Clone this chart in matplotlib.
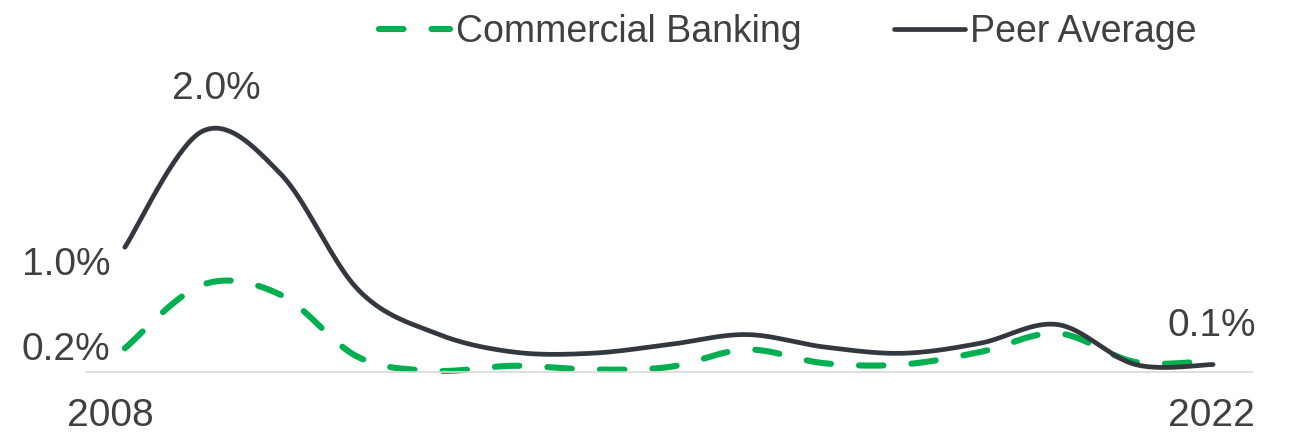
import numpy as np
import matplotlib
matplotlib.use("Agg")
import matplotlib.pyplot as plt

years = list(range(2008, 2023))
commercial = [0.19, 0.70, 0.62, 0.12, 0.01, 0.05, 0.02, 0.04, 0.18, 0.07, 0.06, 0.16, 0.31, 0.08, 0.09]
peer = [1.00, 1.93, 1.59, 0.66, 0.31, 0.16, 0.15, 0.22, 0.30, 0.20, 0.15, 0.23, 0.38, 0.06, 0.06]

GREEN = "#00B050"
DARK = "#33383E"
TEXT = "#404040"

plt.rcParams["font.family"] = ["Liberation Sans", "DejaVu Sans"]


def smooth(xs, ys, n=40):
    # excel-like smoothed line: bezier segments with catmull-rom control points
    x = np.asarray(xs, dtype=float)
    y = np.asarray(ys, dtype=float)
    px = np.concatenate([[x[0]], x, [x[-1]]])
    py = np.concatenate([[y[0]], y, [y[-1]]])
    out_x, out_y = [], []
    t = np.linspace(0, 1, n)
    for i in range(len(x) - 1):
        p0 = np.array([px[i + 1], py[i + 1]])
        p3 = np.array([px[i + 2], py[i + 2]])
        c1 = p0 + (p3 - np.array([px[i], py[i]])) / 6
        c2 = p3 - (np.array([px[i + 3], py[i + 3]]) - p0) / 6
        b = ((1 - t) ** 3)[:, None] * p0 + (3 * (1 - t) ** 2 * t)[:, None] * c1 \
            + (3 * (1 - t) * t ** 2)[:, None] * c2 + (t ** 3)[:, None] * p3
        out_x.extend(b[:, 0])
        out_y.extend(b[:, 1])
    return out_x, out_y


fig = plt.figure(figsize=(12.91, 4.33), dpi=100)
ax = fig.add_axes([86 / 1291, (433 - 372) / 433, (1252 - 86) / 1291, 312 / 433])

cx, cy = smooth(years, commercial)
px_, py_ = smooth(years, peer)
ax.plot(cx, cy, color=GREEN, lw=4.4, dashes=(4.0, 4.6), dash_capstyle="round",
        label="Commercial Banking", clip_on=False)
ax.plot(px_, py_, color=DARK, lw=3.4, solid_capstyle="round",
        label="Peer Average", clip_on=False)

ax.set_xlim(2007.5, 2022.5)
ax.set_ylim(0, 2.5)
for s in ["top", "right", "left"]:
    ax.spines[s].set_visible(False)
ax.spines["bottom"].set_color("#D9D9D9")
ax.spines["bottom"].set_linewidth(1.2)
ax.set_yticks([])
ax.set_xticks([2007.82, 2021.98])
ax.set_xticklabels(["2008", "2022"], fontsize=28, color=TEXT)
ax.tick_params(axis="x", length=0, pad=19)

fs = 28
ax.text(2007.81, peer[0] - 0.14, "1.0%", fontsize=fs, color=TEXT, ha="right", va="center")
ax.text(2007.81, commercial[0] - 0.01, "0.2%", fontsize=fs, color=TEXT, ha="right", va="center")
ax.text(2009.17, 2.27, "2.0%", fontsize=fs, color=TEXT, ha="center", va="center")
ax.text(2021.98, 0.37, "0.1%", fontsize=fs, color=TEXT, ha="center", va="center")

leg = ax.legend(loc="center", bbox_to_anchor=(788 / 1291, 1 - 32 / 433),
                bbox_transform=fig.transFigure, ncol=2, frameon=False,
                fontsize=27, handlelength=1.9, handletextpad=0.15, columnspacing=2.45)
for t in leg.get_texts():
    t.set_color(TEXT)

fig.savefig("out.png", dpi=100)
